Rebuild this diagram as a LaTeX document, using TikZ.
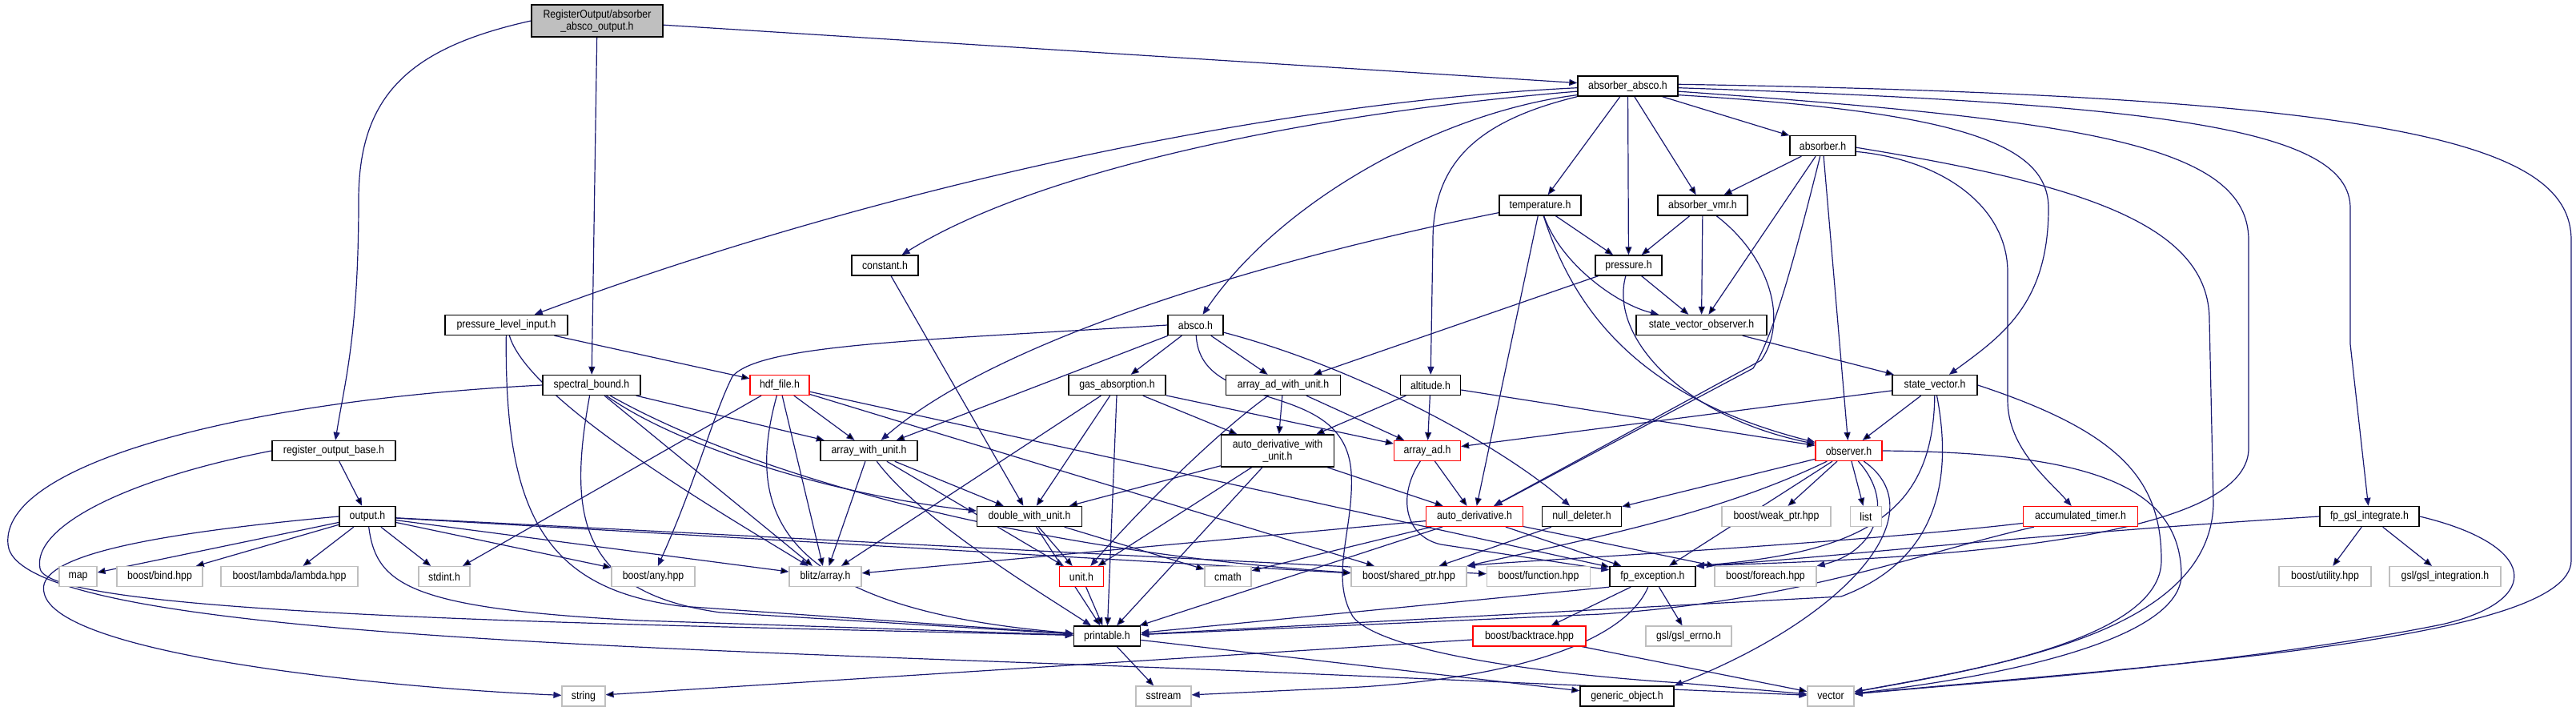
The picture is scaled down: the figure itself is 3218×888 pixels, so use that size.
\documentclass[tikz,border=0pt]{standalone}
\usepackage{fontspec}
\newfontfamily\depfont{Liberation Sans}[FakeStretch=0.88]
\usetikzlibrary{arrows.meta,backgrounds}
\definecolor{edgeblue}{RGB}{25,25,112}
\definecolor{boxgray}{RGB}{191,191,191}
\definecolor{boxred}{RGB}{255,0,0}

\begin{document}
\begin{tikzpicture}[x=1pt,y=1pt,
    hdr/.style={draw=black,line width=1.4pt,fill=white,minimum height=25pt,inner sep=0pt,
                font=\depfont\fontsize{14pt}{15pt}\selectfont},
    trunc/.style={hdr,draw=boxred,line width=1.2pt},
    sys/.style={hdr,draw=boxgray,line width=1.2pt},
    root/.style={hdr,fill=boxgray},
    bw/.style={minimum width=#1pt},
    dep/.style={draw=edgeblue,line width=1.2pt,-{Triangle[length=10pt,width=8pt]}}]
\useasboundingbox (0,0) rectangle (3218,-888);
% headers
\node[root,bw=164,minimum height=40pt,align=center] (tp) at (746,-26) {RegisterOutput/absorber\\\_absco\_output.h};
\node[hdr,bw=125] (aa) at (2033.5,-107.5) {absorber\_absco.h};
\node[hdr,bw=82] (ab) at (2277,-182) {absorber.h};
\node[hdr,bw=102] (temp) at (1924,-256.5) {temperature.h};
\node[hdr,bw=112] (avmr) at (2127,-256.5) {absorber\_vmr.h};
\node[hdr,bw=83] (const) at (1105.5,-331.5) {constant.h};
\node[hdr,bw=83] (pres) at (2034.5,-331.5) {pressure.h};
\node[hdr,bw=153] (pli) at (632.5,-406) {pressure\_level\_input.h};
\node[hdr,bw=69] (absco) at (1493.5,-406) {absco.h};
\node[hdr,bw=163] (svo) at (2125.5,-406) {state\_vector\_observer.h};
\node[hdr,bw=122] (sb) at (739,-481) {spectral\_bound.h};
\node[trunc,bw=74] (hdf) at (974,-481) {hdf\_file.h};
\node[hdr,bw=121] (gas) at (1395.5,-481) {gas\_absorption.h};
\node[hdr,bw=143] (aadwu) at (1603,-481) {array\_ad\_with\_unit.h};
\node[hdr,bw=75] (alt) at (1787,-481) {altitude.h};
\node[hdr,bw=106] (sv) at (2417,-481) {state\_vector.h};
\node[hdr,bw=154] (rob) at (417,-563) {register\_output\_base.h};
\node[hdr,bw=121] (awu) at (1085.5,-563) {array\_with\_unit.h};
\node[hdr,bw=141,minimum height=40pt,align=center] (adwu) at (1596,-563) {auto\_derivative\_with\\\_unit.h};
\node[trunc,bw=83] (arrad) at (1783,-563) {array\_ad.h};
\node[trunc,bw=83] (obs) at (2309.5,-563) {observer.h};
\node[hdr,bw=70] (out) at (459,-645) {output.h};
\node[hdr,bw=131] (dwu) at (1286,-645) {double\_with\_unit.h};
\node[trunc,bw=121] (ad) at (1842,-645) {auto\_derivative.h};
\node[hdr,bw=99] (nd) at (1976,-645) {null\_deleter.h};
\node[sys,bw=136] (weak) at (2219,-645) {boost/weak\_ptr.hpp};
\node[sys,bw=39] (list) at (2331,-645) {list};
\node[trunc,bw=143] (acct) at (2599,-645) {accumulated\_timer.h};
\node[hdr,bw=124] (fpgsl) at (2960,-645) {fp\_gsl\_integrate.h};
% leaves
\node[sys,bw=47] (map) at (97.5,-720) {map};
\node[sys,bw=107] (bind) at (199.5,-720) {boost/bind.hpp};
\node[sys,bw=171] (lambda) at (361.5,-720) {boost/lambda/lambda.hpp};
\node[sys,bw=64] (stdint) at (555,-720) {stdint.h};
\node[sys,bw=104] (any) at (816,-720) {boost/any.hpp};
\node[sys,bw=90] (blitz) at (1031,-720) {blitz/array.h};
\node[trunc,bw=55] (unit) at (1351,-720) {unit.h};
\node[sys,bw=58] (cmath) at (1534,-720) {cmath};
\node[sys,bw=144] (shptr) at (1760,-720) {boost/shared\_ptr.hpp};
\node[sys,bw=129] (func) at (1922,-720) {boost/function.hpp};
\node[hdr,bw=107] (fpe) at (2064.5,-720) {fp\_exception.h};
\node[sys,bw=127] (foreach) at (2205.5,-720) {boost/foreach.hpp};
\node[sys,bw=115] (util) at (2904.5,-720) {boost/utility.hpp};
\node[sys,bw=139] (gslint) at (3054.5,-720) {gsl/gsl\_integration.h};
\node[hdr,bw=83] (print) at (1383,-794.5) {printable.h};
\node[trunc,bw=141] (bt) at (1910.5,-794.5) {boost/backtrace.hpp};
\node[sys,bw=107] (errno) at (2109.5,-794.5) {gsl/gsl\_errno.h};
\node[sys,bw=54] (string) at (729,-869.5) {string};
\node[sys,bw=69] (sstream) at (1453.5,-869.5) {sstream};
\node[hdr,bw=117] (gobj) at (2032.5,-869.5) {generic\_object.h};
\node[sys,bw=58] (vector) at (2287,-869.5) {vector};
% includes
\begin{scope}[on background layer]
\path[dep] (tp) edge (aa) edge (sb);
\draw[dep] (tp.west) .. controls (510,-60) and (448,-120) .. (448,-250) .. controls (448,-420) and (430,-480) .. (rob);
%
\path[dep] (aa) edge (temp) edge (pres) edge (avmr) edge (ab);
\draw[dep] (aa.182) .. controls (1550,-130) and (1050,-250) .. (pli);
\draw[dep] (aa.186) .. controls (1650,-140) and (1300,-210) .. (const);
\draw[dep] (aa.190) .. controls (1800,-140) and (1600,-250) .. (absco);
\draw[dep] (aa.south west) .. controls (1850,-150) and (1790,-200) .. (1790,-300) -- (alt);
\draw[dep] (aa.-10) .. controls (2450,-140) and (2559,-180) .. (2559,-260) .. controls (2559,-380) and (2500,-420) .. (sv);
\draw[dep] (aa.-6) .. controls (2600,-150) and (2809,-180) .. (2809,-300) -- (2809,-560) .. controls (2809,-690) and (2300,-700) .. (fpe.north east);
\draw[dep] (aa.-2) .. controls (2700,-130) and (2936,-160) .. (2936,-260) -- (2936,-430) -- (fpgsl);
\draw[dep] (aa.2) .. controls (3000,-120) and (3212,-180) .. (3212,-300) -- (3212,-700) .. controls (3212,-800) and (2700,-830) .. (vector);
%
\path[dep] (ab) edge (avmr) edge (svo) edge (obs);
\draw[dep] (ab) .. controls (2240,-330) and (2215,-420) .. (2190,-460) -- (ad);
\draw[dep] (ab.-10) .. controls (2430,-200) and (2508,-260) .. (2508,-340) -- (2508,-500) .. controls (2508,-560) and (2560,-600) .. (acct);
\draw[dep] (ab.-3) .. controls (2600,-230) and (2760,-280) .. (2760,-400) -- (2765,-630) .. controls (2760,-790) and (2500,-830) .. (vector);
%
\path[dep] (temp) edge (ad) edge (pres);
\draw[dep] (temp.190) .. controls (1600,-320) and (1250,-420) .. (awu);
\draw[dep] (temp) .. controls (1950,-330) and (2020,-380) .. (svo);
\draw[dep] (temp) .. controls (1970,-400) and (2060,-500) .. (obs);
\path[dep] (avmr) edge (pres) edge (svo);
\draw[dep] (avmr) .. controls (2210,-320) and (2235,-400) .. (2200,-450) -- (ad);
\path[dep] (const) edge (dwu);
\path[dep] (pres) edge (aadwu) edge (svo);
\draw[dep] (pres) .. controls (2010,-420) and (2100,-520) .. (obs);
\path[dep] (svo) edge (sv);
%
\path[dep] (pli) edge (hdf);
\draw[dep] (pli) .. controls (660,-500) and (900,-640) .. (blitz);
\draw[dep] (pli) .. controls (630,-640) and (680,-735) .. (850,-757) -- (print);
\path[dep] (sb) edge (awu) edge (blitz);
\draw[dep] (sb) .. controls (850,-560) and (1050,-620) .. (dwu);
\draw[dep] (sb) .. controls (950,-600) and (1300,-690) .. (shptr);
\draw[dep] (sb) .. controls (710,-640) and (720,-740) .. (900,-765) -- (print);
\draw[dep] (sb.west) .. controls (300,-500) and (0,-580) .. (10,-680) .. controls (20,-800) and (900,-810) .. (1600,-840) -- (vector);
\path[dep] (hdf) edge (stdint) edge (awu) edge (blitz) edge (shptr) edge (fpe);
\draw[dep] (hdf) .. controls (930,-640) and (970,-760) .. (print);
\path[dep] (rob) edge (out);
\draw[dep] (rob.west) .. controls (150,-600) and (40,-660) .. (50,-710) .. controls (60,-770) and (800,-780) .. (print);
\path[dep] (out) edge (map) edge (bind) edge (lambda) edge (stdint) edge (any) edge (blitz) edge (shptr) edge (func);
\draw[dep] (out.west) .. controls (150,-670) and (45,-700) .. (55,-740) .. controls (70,-820) and (500,-860) .. (string);
\draw[dep] (out) .. controls (470,-730) and (510,-760) .. (800,-775) -- (print);
%
\path[dep] (awu) edge (blitz) edge (dwu) edge (unit);
\draw[dep] (awu) .. controls (1150,-650) and (1300,-740) .. (print);
\path[dep] (gas) edge (dwu) edge (blitz) edge (print) edge (adwu) edge (arrad);
\path[dep] (absco) edge (gas) edge (aadwu) edge (awu);
\draw[dep] (absco.west) .. controls (1150,-425) and (950,-430) .. (915,-470) .. controls (890,-520) and (870,-600) .. (any);
\draw[dep] (absco) .. controls (1700,-460) and (1880,-560) .. (nd);
\draw[dep] (absco) .. controls (1500,-520) and (1680,-470) .. (1688,-590) .. controls (1692,-660) and (1660,-720) .. (1690,-770) .. controls (1720,-810) and (1900,-840) .. (2100,-853) -- (vector);
\path[dep] (aadwu) edge (adwu) edge (arrad);
\draw[dep] (aadwu) .. controls (1520,-540) and (1420,-640) .. (unit);
\path[dep] (adwu) edge (dwu) edge (unit) edge (print) edge (ad);
\path[dep] (alt) edge (adwu) edge (arrad) edge (obs);
\path[dep] (arrad) edge (ad);
\draw[dep] (arrad) .. controls (1745,-620) and (1755,-670) .. (1800,-680) -- (fpe);
%
\path[dep] (sv) edge (arrad) edge (obs);
\draw[dep] (sv) .. controls (2415,-640) and (2330,-690) .. (fpe.north east);
\draw[dep] (sv) .. controls (2440,-600) and (2420,-700) .. (2300,-745) -- (print);
\draw[dep] (sv.east) .. controls (2650,-540) and (2700,-600) .. (2700,-700) .. controls (2700,-800) and (2450,-840) .. (vector);
\path[dep] (obs) edge (nd) edge (fpe) edge (weak) edge (list);
\draw[dep] (obs) .. controls (2150,-640) and (2000,-670) .. (shptr.north east);
\draw[dep] (obs) .. controls (2370,-630) and (2340,-690) .. (foreach.north east);
\draw[dep] (obs) .. controls (2420,-640) and (2310,-770) .. (gobj.north east);
\draw[dep] (obs.east) .. controls (2620,-565) and (2725,-610) .. (2725,-720) .. controls (2720,-800) and (2500,-845) .. (vector);
%
\path[dep] (ad) edge (blitz) edge (cmath) edge (print) edge (fpe) edge (foreach);
\path[dep] (nd) edge (shptr);
\path[dep] (dwu) edge (unit) edge (print) edge (cmath);
\path[dep] (unit) edge (print);
\draw[dep] (acct) .. controls (2400,-690) and (2250,-750) .. (2000,-767) -- (print);
\draw[dep] (acct) .. controls (2300,-680) and (1900,-700) .. (shptr.north east);
\path[dep] (fpgsl) edge (util) edge (gslint);
\draw[dep] (fpgsl.west) .. controls (2500,-670) and (2250,-700) .. (fpe.north east);
\draw[dep] (fpgsl.east) .. controls (3170,-680) and (3180,-750) .. (3050,-780) .. controls (2800,-830) and (2500,-850) .. (vector);
%
\path[dep] (fpe) edge (bt) edge (errno);
\draw[dep] (fpe.south west) -- (print);
\draw[dep] (fpe) .. controls (2030,-800) and (1900,-845) .. (1700,-858) -- (sstream);
\path[dep] (bt) edge (string) edge (vector);
\path[dep] (print) edge (sstream) edge (gobj);
\end{scope}
\end{tikzpicture}
\end{document}
